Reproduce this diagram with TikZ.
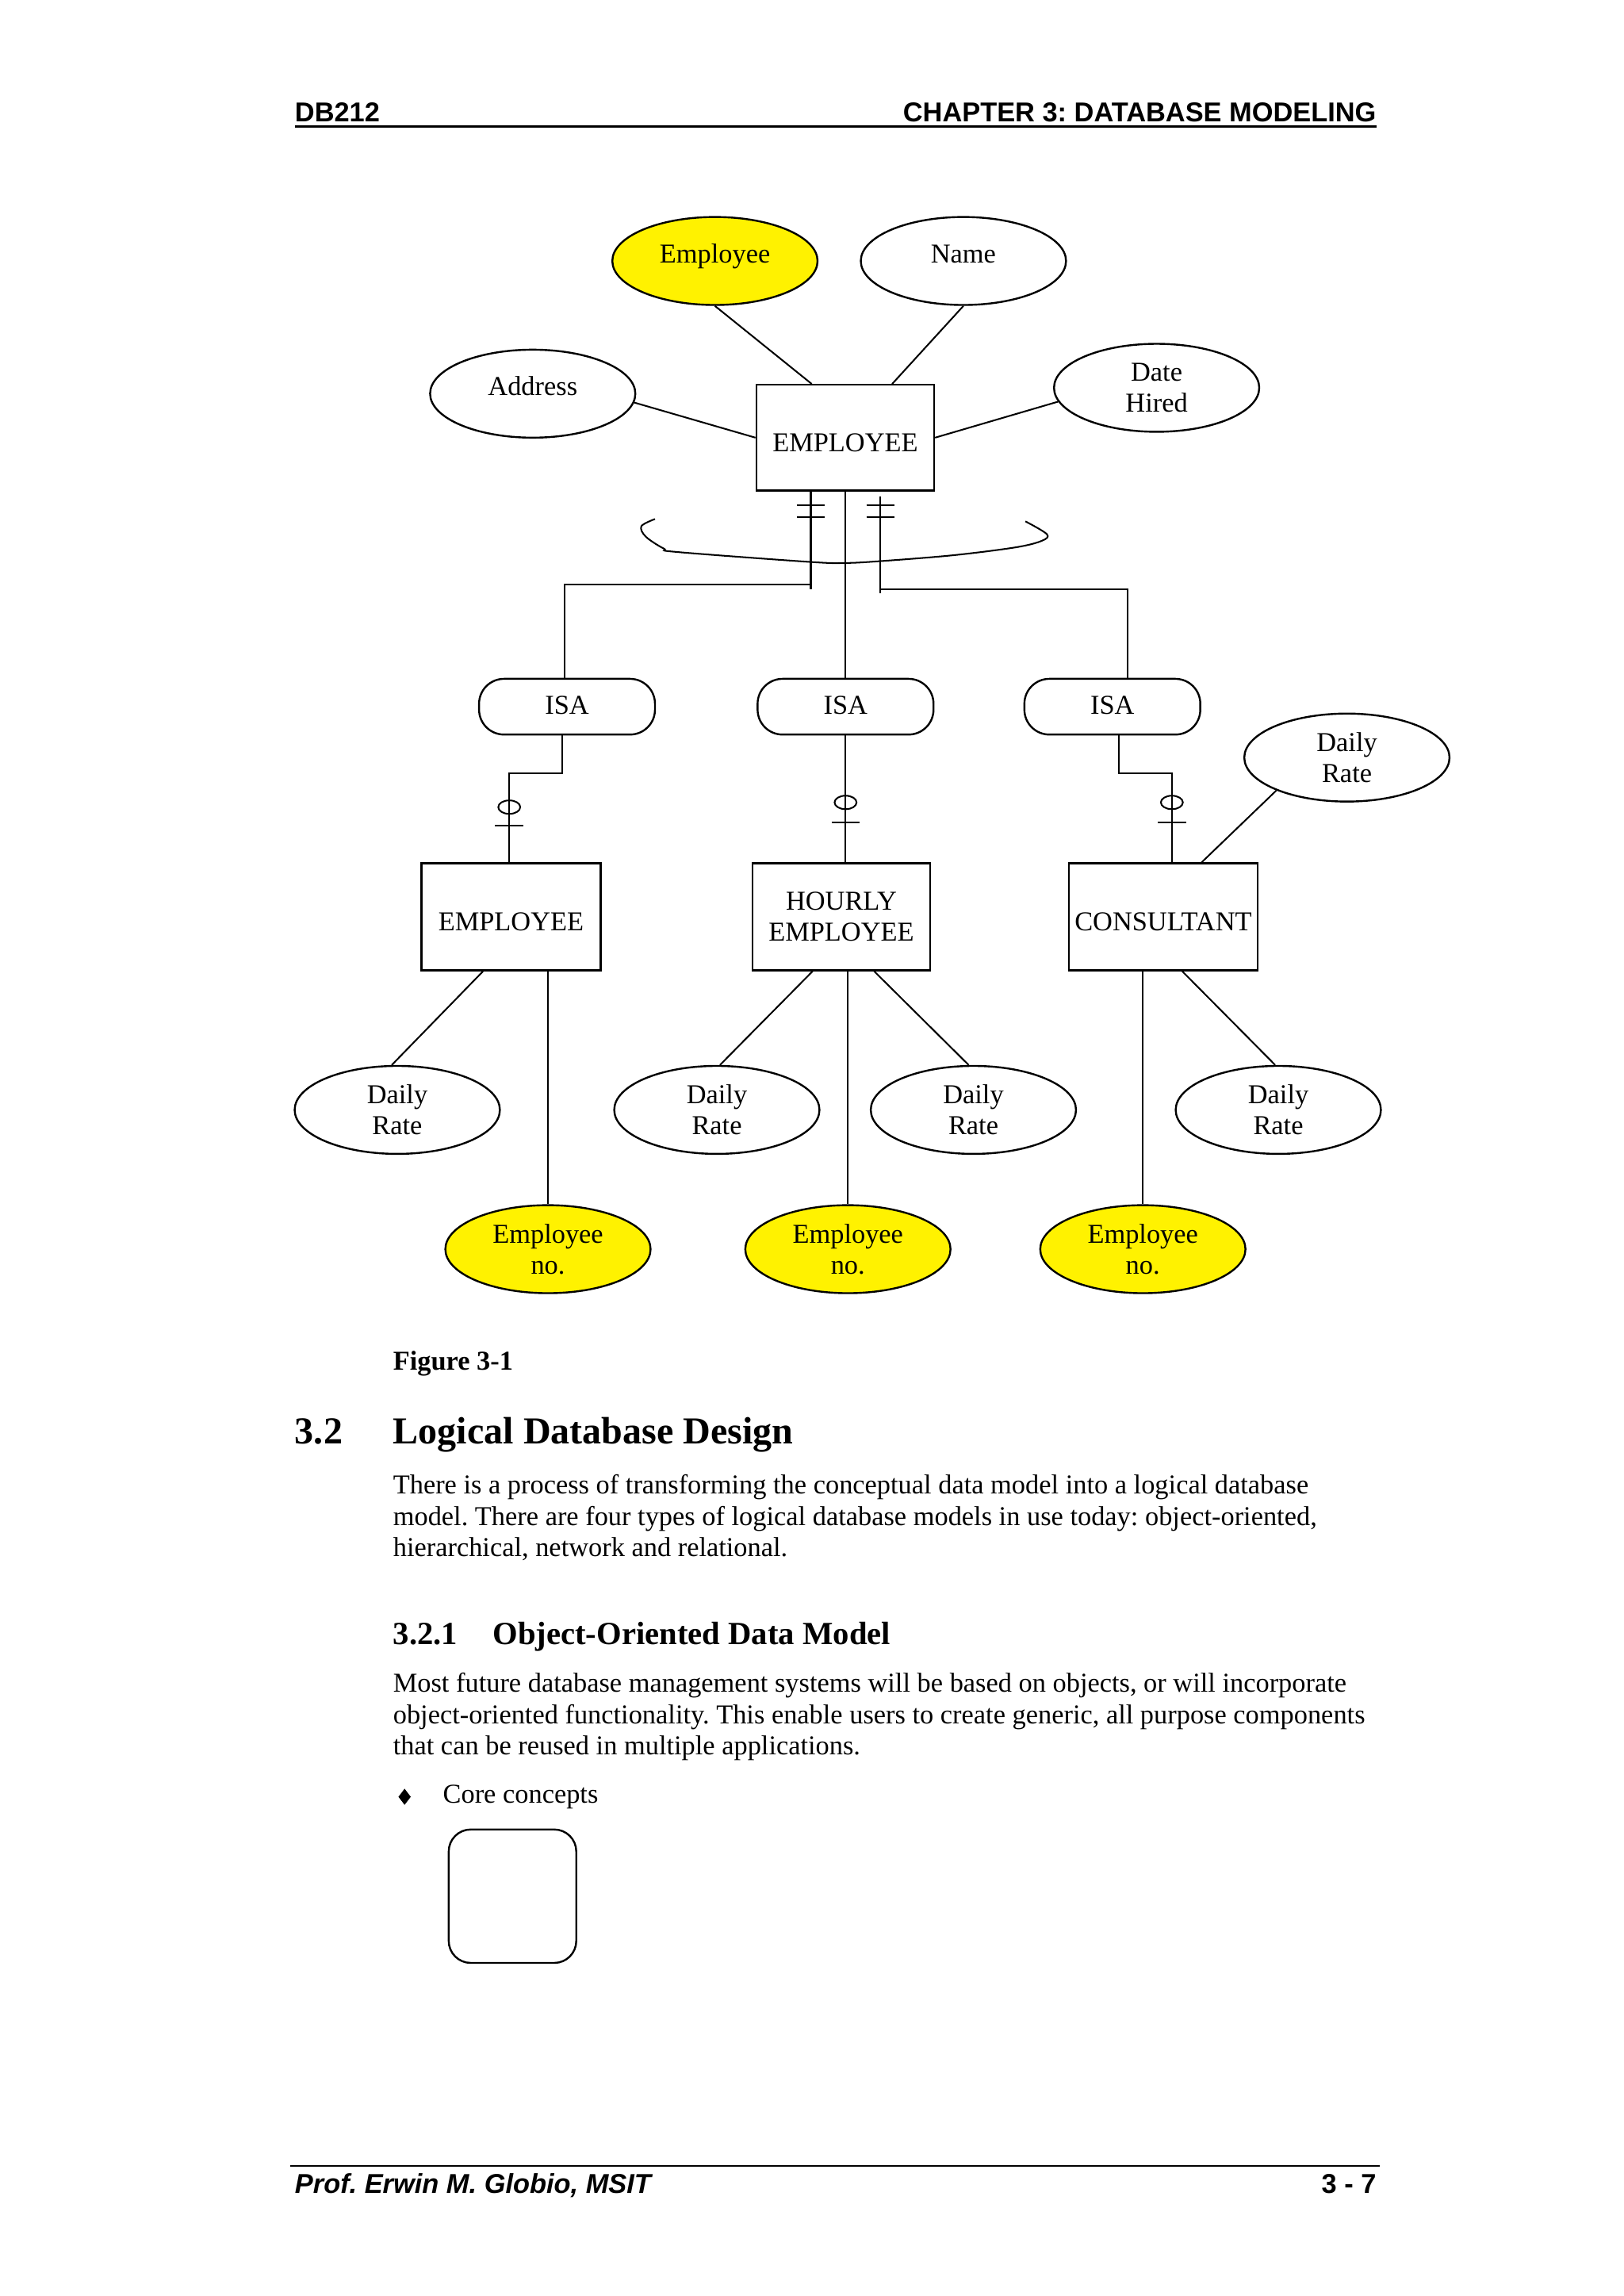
\documentclass[tikz,border=0pt]{standalone}
\usepackage{fontspec}
\setmainfont{Liberation Serif}
\newfontfamily\arialf{Liberation Sans}
\usetikzlibrary{shapes.geometric,calc}
\begin{document}
\frenchspacing
\begin{tikzpicture}[x=1pt,y=-1pt,
  txt/.style={font=\fontsize{18.6pt}{21pt}\selectfont},
  attr/.style={ellipse, draw, line width=1.3pt, minimum width=140pt, minimum height=60pt, inner sep=0pt, txt},
  oneline/.style={text height=8pt, text depth=5.8pt},
  pk/.style={fill=yellow},
  ent/.style={rectangle, draw, line width=1.3pt, minimum height=73pt, inner sep=0pt, txt},
  entone/.style={text height=19pt, text depth=0pt},
  isabox/.style={rectangle, rounded corners=17pt, draw, line width=1.3pt, minimum width=120pt, minimum height=38pt, inner sep=0pt, txt, text height=10pt, text depth=0pt},
  conn/.style={line width=1.1pt},
  ptxt/.style={inner sep=0pt, anchor=base west, txt},
  hdr/.style={inner sep=0pt, font=\arialf\bfseries\fontsize{18.6pt}{21pt}\selectfont}]

\path[fill=white] (0,0) rectangle (1107.8,1566);
\useasboundingbox (0,0) rectangle (1107.8,1566);

% header and footer
\node[hdr, anchor=base west] (hl) at (201,83) {DB212};
\node[hdr, anchor=base east] (hr) at (939,83) {CHAPTER 3: DATABASE MODELING};
\draw[line width=1.5pt] (201,86.3) -- (939,86.3);
\draw[line width=1.2pt] (198,1477.2) -- (941,1477.2);
\node[hdr, anchor=base west, font=\arialf\bfseries\itshape\fontsize{18.6pt}{21pt}\selectfont] (fl) at (201,1496) {Prof. Erwin M. Globio, MSIT};
\node[hdr, anchor=base east] (fr) at (939,1496) {3 - 7};

% top entity and attributes
\node[attr, pk, oneline] (empA) at (487.7,178) {Employee};
\node[attr, oneline] (name) at (657.2,178) {Name};
\node[attr, oneline] (address) at (363.4,268.5) {Address};
\node[attr, align=center] (hired) at (789,264.5) {Date\\Hired};
\node[ent, minimum width=121.3pt, minimum height=72pt, entone] (E) at (576.6,298.5) {EMPLOYEE};

\draw[conn] (empA.south) -- ([xshift=-22.9pt]E.north);
\draw[conn] (name.south) -- ([xshift=32pt]E.north);
\draw[conn] (address.-5) -- (E.west);
\draw[conn] (hired.188) -- (E.east);

% ISA nodes
\node[isabox] (isa1) at (386.8,482) {ISA};
\node[isabox] (isa2) at (576.8,482) {ISA};
\node[isabox] (isa3) at (758.8,482) {ISA};

% lines from supertype
\coordinate (lk) at (553.1,402);
\coordinate (lh) at (553.1,398.5);
\coordinate (rk) at (600.5,404.4);
\coordinate (rh) at (600.5,401.8);
\draw[conn] ([xshift=-23.5pt]E.south) -- (lk);
\draw[conn] (lh) -| ([xshift=-1.6pt]isa1.north);
\draw[conn] (E.south) -- (E.south |- isa2.north);
\draw[conn] ([xshift=23.9pt,yshift=-3.5pt]E.south) -- (rk);
\draw[conn] (rh) -| ([xshift=10.5pt]isa3.north);
% double ticks
\draw[conn] (543.6,344.4) -- (562.6,344.4);
\draw[conn] (543.6,352.5) -- (562.6,352.5);
\draw[conn] (591,344.4) -- (610,344.4);
\draw[conn] (591,352.5) -- (610,352.5);
% freehand arc
\draw[conn] plot[smooth, tension=0.55] coordinates {(446.8,354) (437.5,358.9) (440.5,366) (452.9,374.2) (462,376.5) (551.6,383.2) (576.2,384) (600.9,382.7) (650.2,378.7) (692.9,373.3) (710.8,368.8) (714.1,364.3) (699.5,355.6)};

% subtypes
\node[ent, minimum width=122.3pt, entone] (S1) at (348.6,625.3) {EMPLOYEE};
\node[ent, minimum width=121.3pt, align=center] (S2) at (573.9,625.3) {HOURLY\\EMPLOYEE};
\node[ent, minimum width=128.6pt, entone] (S3) at (793.5,625.3) {CONSULTANT};

\draw[conn] ([xshift=-3.2pt]isa1.south) -- ++(0,26) -| ([xshift=-1.2pt]S1.north);
\draw[conn] (isa2.south) -- (isa2.south |- S2.north);
\draw[conn] ([xshift=4.3pt]isa3.south) -- ++(0,26) -| ([xshift=5.9pt]S3.north);
% optional circles and ticks
\draw[conn] (347.4,550.5) ellipse [x radius=7.5pt, y radius=4.6pt];
\draw[conn] (337.8,563.2) -- (357,563.2);
\draw[conn] (576.8,547.3) ellipse [x radius=7.5pt, y radius=4.6pt];
\draw[conn] (567.2,560.8) -- (586.4,560.8);
\draw[conn] (799.4,547.3) ellipse [x radius=7.5pt, y radius=4.6pt];
\draw[conn] (789.8,560.8) -- (809,560.8);

% subtype attributes
\node[attr, align=center] (dr0) at (918.8,516.7) {Daily\\Rate};
\node[attr, align=center] (dr1) at (271,757) {Daily\\Rate};
\node[attr, align=center] (dr2) at (489,757) {Daily\\Rate};
\node[attr, align=center] (dr3) at (664,757) {Daily\\Rate};
\node[attr, align=center] (dr4) at (872,757) {Daily\\Rate};
\node[attr, pk, align=center] (en1) at (373.8,852) {Employee\\no.};
\node[attr, pk, align=center] (en2) at (578.4,852) {Employee\\no.};
\node[attr, pk, align=center] (en3) at (779.6,852) {Employee\\no.};

\draw[conn] (dr0.205) -- ([xshift=26.2pt]S3.north);
\draw[conn] ([xshift=-19.1pt]S1.south) -- (dr1.97);
\draw[conn] (en1.north |- S1.south) -- (en1.north);
\draw[conn] ([xshift=-19.6pt]S2.south) -- (dr2.86);
\draw[conn] (en2.north |- S2.south) -- (en2.north);
\draw[conn] ([xshift=22.4pt]S2.south) -- (dr3.96);
\draw[conn] (en3.north |- S3.south) -- (en3.north);
\draw[conn] ([xshift=13pt]S3.south) -- (dr4.94);

% body text
\node[ptxt, font=\bfseries\fontsize{18.6pt}{21pt}\selectfont] (fig) at (268,934.5) {Figure 3-1};
\node[ptxt, font=\bfseries\fontsize{26pt}{30pt}\selectfont] (s32n) at (201,985) {3.2};
\node[ptxt, font=\bfseries\fontsize{26pt}{30pt}\selectfont] (s32t) at (268,985) {Logical Database Design};
\node[ptxt] (p1a) at (268,1018.8) {There is a process of transforming the conceptual data model into a logical database};
\node[ptxt] (p1b) at (268,1040.3) {model. There are four types of logical database models in use today: object-oriented,};
\node[ptxt] (p1c) at (268,1061.8) {hierarchical, network and relational.};
\node[ptxt, font=\bfseries\fontsize{22pt}{26pt}\selectfont] (s321n) at (268,1121.4) {3.2.1};
\node[ptxt, font=\bfseries\fontsize{22pt}{26pt}\selectfont] (s321t) at (336,1121.4) {Object-Oriented Data Model};
\node[ptxt] (p2a) at (268,1154) {Most future database management systems will be based on objects, or will incorporate};
\node[ptxt] (p2b) at (268,1175.5) {object-oriented functionality. This enable users to create generic, all purpose components};
\node[ptxt] (p2c) at (268,1197) {that can be reused in multiple applications.};
\fill (276,1220) -- (280.2,1225.5) -- (276,1231) -- (271.8,1225.5) -- cycle;
\node[ptxt] (core) at (302,1229.7) {Core concepts};
\node[draw, line width=1.3pt, rounded corners=15pt, minimum width=87pt, minimum height=91pt, inner sep=0pt] (cbox) at (349.6,1293.3) {};
\end{tikzpicture}
\end{document}
